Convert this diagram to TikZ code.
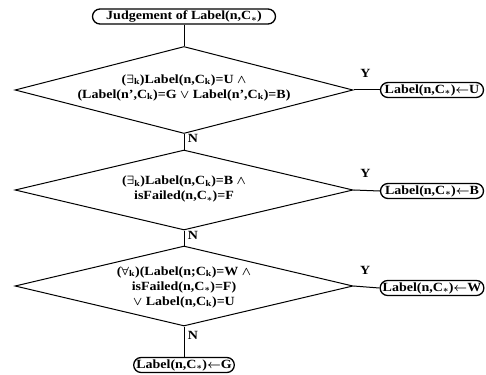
\documentclass[tikz,border=0pt]{standalone}
\usepackage{fontspec}
\setmainfont{Liberation Serif}[FakeStretch = 1.12]
\usepackage{tikz}
\usetikzlibrary{shapes.geometric, shapes.misc}
\usetikzlibrary{positioning}

\newcommand{\Ck}{C\textsubscript{k}}
\newcommand{\Cs}{C$_{*}$}

\begin{document}
\begin{tikzpicture}[x = 1pt, y = -1pt,
                    line width = 1pt,
                    font = \fontsize{12.5}{15}\selectfont\bfseries\boldmath,
                    terminal/.style = {rounded rectangle, draw = black, line width = 1.3pt, inner sep = 0pt, minimum height = 15pt},
                    decision/.style = {diamond, draw = black, inner sep = 0pt, minimum width = 338pt, minimum height = 80pt}]
    \useasboundingbox (0,0) rectangle (486,374);

    % Draw the start and the decisions:
    \node [terminal, minimum width = 183pt] (Start) at (184,16.5) {Judgement of Label(n,\Cs)};
    \node [decision, minimum height = 87pt] (Dec1) at (184,90) {};
    \node [decision] (Dec2) at (184,190) {};
    \node [decision] (Dec3) at (184,286) {};

    % Draw the conditions:
    \node [align = center] (Cond1) at (184,87.5) {($\exists$\textsubscript{k})Label(n,\Ck)=U $\wedge$\\(Label(n',\Ck)=G $\vee$ Label(n',\Ck)=B)};
    \node [align = center] (Cond2) at (184,189) {($\exists$\textsubscript{k})Label(n,\Ck)=B $\wedge$\\isFailed(n,\Cs)=F};
    \node [align = center] (Cond3) at (184,287) {($\forall$\textsubscript{k})(Label(n;\Ck)=W $\wedge$\\isFailed(n,\Cs)=F)\\$\vee$ Label(n,\Ck)=U};

    % Draw the results:
    \node [terminal, minimum width = 103pt] (ResU) at (432,90) {Label(n,\Cs)$\leftarrow$U};
    \node [terminal, minimum width = 103pt] (ResB) at (432,191) {Label(n,\Cs)$\leftarrow$B};
    \node [terminal, minimum width = 103pt] (ResW) at (432,288) {Label(n,\Cs)$\leftarrow$W};
    \node [terminal, minimum width = 100pt] (ResG) at (184,365) {Label(n,\Cs)$\leftarrow$G};

    % Draw the connectors:
    \draw (Start.south) -- (Dec1.north);
    \foreach \dec/\res in {Dec1/ResU, Dec2/ResB, Dec3/ResW}
        \draw (\dec.east) -- (\res.west) node [pos = .45, above = 9pt] {Y};
    \foreach \from/\to in {Dec1/Dec2, Dec2/Dec3, Dec3/ResG}
        \draw (\from.south) -- (\to.north) node [pos = .3, right] {N};
\end{tikzpicture}
\end{document}
